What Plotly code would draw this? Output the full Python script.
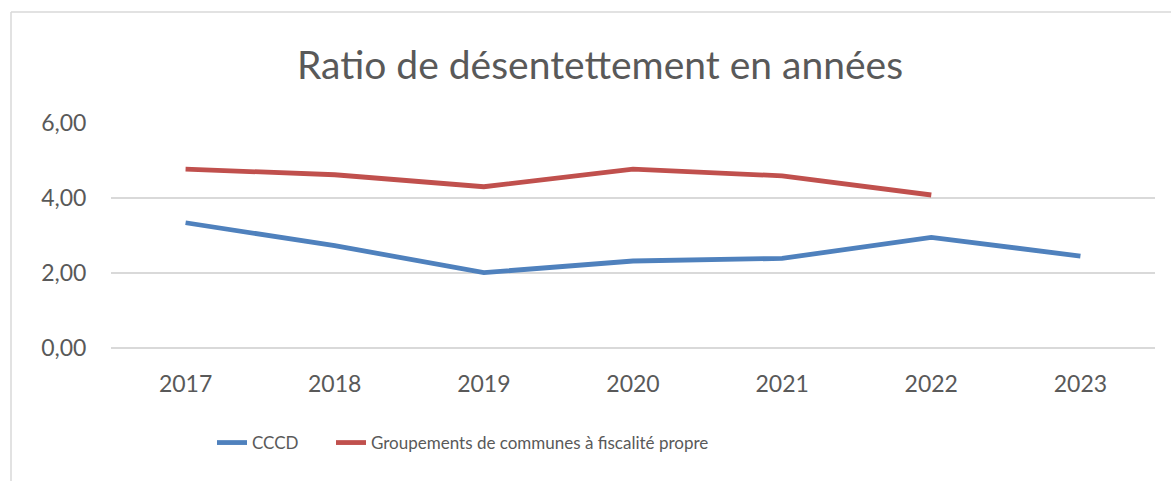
import plotly.graph_objects as go

years = ["2017", "2018", "2019", "2020", "2021", "2022", "2023"]
cccd = [3.34, 2.73, 2.01, 2.32, 2.39, 2.95, 2.45]
groupements = [4.77, 4.62, 4.30, 4.77, 4.59, 4.08, None]
series_names = ["CCCD", "Groupements de communes à fiscalité propre"]
title_text = "Ratio de désentettement en années"

W, H = 1171, 481
L, R, T, B = 111, 16, 123, 133
pw, ph = W - L - R, H - T - B

def px_x(p):
    return (p - L) / pw

def px_y(p):
    return (H - B - p) / ph

fig = go.Figure()
fig.add_trace(go.Scatter(x=years, y=cccd, mode="lines", name=series_names[0],
                         line=dict(color="#4F81BD", width=4.8), legend="legend"))
fig.add_trace(go.Scatter(x=years, y=groupements, mode="lines", name=series_names[1],
                         line=dict(color="#C0504D", width=4.8), legend="legend2"))

font_family = "Lato, 'Open Sans', sans-serif"
legend_common = dict(orientation="h", xanchor="left", yanchor="middle",
                     font=dict(size=17, color="#595959"), itemwidth=30,
                     bgcolor="rgba(0,0,0,0)")
fig.update_layout(
    width=W, height=H,
    margin=dict(l=L, r=R, t=T, b=B, autoexpand=False),
    paper_bgcolor="white", plot_bgcolor="white",
    separators=", ",
    font=dict(family=font_family, color="#595959", size=20),
    title=dict(text=title_text, x=px_x(600), xanchor="center", xref="paper",
               y=1 - 65 / H, yanchor="middle",
               font=dict(size=39, color="#595959", family=font_family)),
    showlegend=True,
    legend=dict(x=px_x(212), y=px_y(443), **legend_common),
    legend2=dict(x=px_x(331), y=px_y(443), **legend_common),
    xaxis=dict(type="category", range=[-0.5, 6.5], showgrid=False, showline=False,
               zeroline=False, automargin=False,
               ticks="outside", ticklen=15, tickcolor="rgba(0,0,0,0)",
               tickfont=dict(size=23, color="#595959")),
    yaxis=dict(range=[0, 6], tickvals=[0, 2, 4, 6], tickformat=".2f", automargin=False,
               showgrid=True, gridcolor="#D9D9D9", gridwidth=1.6,
               zeroline=True, zerolinecolor="#D9D9D9", zerolinewidth=1.6,
               showline=False,
               ticks="outside", ticklen=19, tickcolor="rgba(0,0,0,0)",
               tickfont=dict(size=23, color="#595959")),
)

# Outer chart-area border (left and top edges visible)
fig.add_shape(type="line", xref="paper", yref="paper",
              x0=px_x(11), x1=px_x(11), y0=px_y(12), y1=px_y(H + 5),
              line=dict(color="#D9D9D9", width=1.5))
fig.add_shape(type="line", xref="paper", yref="paper",
              x0=px_x(11), x1=px_x(W + 5), y0=px_y(12), y1=px_y(12),
              line=dict(color="#D9D9D9", width=1.5))

fig.write_html("out.html", config={"displayModeBar": False},
               post_script="document.body.style.margin='0';document.body.style.overflow='hidden';")
